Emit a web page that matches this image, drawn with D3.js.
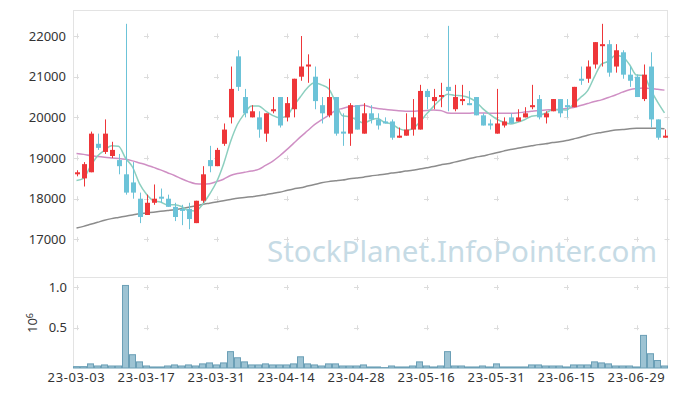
<!DOCTYPE html>
<html>
<head>
<meta charset="utf-8">
<script src="https://cdn.jsdelivr.net/npm/d3@7"></script>
<style>
  body { margin: 0; background: #fff; }
  text { font-family: "Noto Sans", sans-serif; }
</style>
</head>
<body>
<div class="chart-container"></div>
<script>
// Trading days (yy-mm-dd)
const dates = [
  '23-03-03', '23-03-06', '23-03-07', '23-03-08', '23-03-09', '23-03-10', '23-03-13', '23-03-14', '23-03-15', '23-03-16',
  '23-03-17', '23-03-20', '23-03-21', '23-03-22', '23-03-23', '23-03-24', '23-03-27', '23-03-28', '23-03-29', '23-03-30',
  '23-03-31', '23-04-03', '23-04-04', '23-04-05', '23-04-06', '23-04-07', '23-04-10', '23-04-11', '23-04-12', '23-04-13',
  '23-04-14', '23-04-17', '23-04-18', '23-04-19', '23-04-20', '23-04-21', '23-04-24', '23-04-25', '23-04-26', '23-04-27',
  '23-04-28', '23-05-02', '23-05-03', '23-05-04', '23-05-08', '23-05-09', '23-05-10', '23-05-11', '23-05-12', '23-05-15',
  '23-05-16', '23-05-17', '23-05-18', '23-05-19', '23-05-22', '23-05-23', '23-05-24', '23-05-25', '23-05-26', '23-05-30',
  '23-05-31', '23-06-01', '23-06-02', '23-06-05', '23-06-07', '23-06-08', '23-06-09', '23-06-12', '23-06-13', '23-06-14',
  '23-06-15', '23-06-16', '23-06-19', '23-06-20', '23-06-21', '23-06-22', '23-06-23', '23-06-26', '23-06-27', '23-06-28',
  '23-06-29', '23-06-30', '23-07-03', '23-07-04', '23-07-05'
];

const opens = [
  18600, 18500, 18650, 19350, 19150, 19050, 18950, 18600, 18400, 18000,
  17600, 17900, 18050, 18000, 17800, 17750, 17750, 17400, 17950, 18950,
  18800, 19350, 20000, 21500, 20500, 20000, 20000, 19600, 20150, 20500,
  20000, 20200, 21000, 21250, 21000, 20300, 20050, 20500, 19650, 19600,
  20300, 19600, 20100, 19950, 19900, 19900, 19500, 19550, 19700, 19700,
  20650, 20400, 20500, 20750, 20200, 20400, 20350, 20500, 20050, 19850,
  19600, 19800, 20000, 19900, 20000, 20250, 20450, 20000, 20150, 20450,
  20300, 20250, 20950, 20950, 21300, 21750, 21800, 21250, 21600, 21050,
  21000, 20450, 21250, 19950, 19500
];
const highs = [
  18700, 18900, 19650, 19600, 19950, 19400, 19100, 22300, 18900, 18150,
  18100, 18350, 18250, 18100, 17900, 17850, 17900, 17950, 18800, 19300,
  19250, 19850, 21250, 21650, 20700, 20300, 20150, 20100, 20500, 20500,
  20500, 20950, 22000, 21550, 21250, 20500, 20950, 20500, 20100, 20350,
  20300, 20350, 20300, 20100, 20000, 19950, 19750, 20100, 20450, 20800,
  20700, 20700, 20850, 22250, 20800, 20800, 20650, 20500, 20100, 19950,
  20700, 20000, 20100, 20200, 20250, 20800, 20550, 20150, 20450, 20450,
  20450, 20750, 21250, 21400, 21850, 22300, 21900, 21800, 21650, 21250,
  21050, 21300, 21600, 19950, 19700
];
const lows = [
  18550, 18300, 18650, 19200, 19100, 19000, 18600, 18100, 18000, 17400,
  17600, 17850, 17900, 17800, 17450, 17350, 17250, 17400, 17900, 18650,
  18800, 19300, 19850, 20650, 20000, 20000, 19500, 19400, 20100, 19750,
  19900, 20000, 20900, 20850, 20200, 19850, 20000, 19550, 19300, 19300,
  19700, 19600, 19850, 19700, 19850, 19450, 19500, 19550, 19550, 19700,
  20200, 20200, 20250, 20150, 20150, 20300, 20300, 20050, 19800, 19700,
  19600, 19750, 19850, 19900, 20000, 20200, 19950, 19850, 20150, 20000,
  20000, 20250, 20800, 20850, 21200, 21250, 21000, 21100, 20950, 20750,
  20500, 20400, 19750, 19450, 19500
];
const closes = [
  18650, 18850, 19600, 19250, 19600, 19200, 18800, 18150, 18150, 17550,
  17900, 18000, 18000, 17800, 17550, 17700, 17500, 17950, 18600, 18800,
  19200, 19700, 20700, 20750, 20100, 20150, 19700, 20100, 20200, 19800,
  20350, 20950, 21250, 21300, 20400, 20100, 20500, 19600, 19600, 20300,
  19700, 20100, 19950, 19800, 19850, 19500, 19550, 19700, 20000, 20650,
  20500, 20500, 20550, 20650, 20500, 20450, 20300, 20050, 19800, 19800,
  19850, 19900, 19850, 20000, 20100, 20300, 20000, 20100, 20450, 20100,
  20250, 20750, 20900, 21250, 21850, 21800, 21100, 21650, 21050, 20900,
  20500, 21050, 19950, 19500, 19550
];
const volumes = [
  17000, 17000, 51000, 25000, 38000, 25000, 25000, 1025000, 165000, 76000,
  25000, 13000, 13000, 25000, 38000, 25000, 38000, 25000, 51000, 63000,
  38000, 63000, 203000, 127000, 76000, 38000, 38000, 51000, 38000, 38000,
  38000, 51000, 139000, 51000, 38000, 25000, 51000, 51000, 25000, 25000,
  25000, 38000, 13000, 13000, 5000, 25000, 13000, 13000, 25000, 76000,
  25000, 13000, 25000, 203000, 25000, 25000, 13000, 13000, 25000, 13000,
  51000, 13000, 13000, 13000, 13000, 38000, 38000, 25000, 25000, 25000,
  13000, 38000, 38000, 38000, 76000, 63000, 51000, 25000, 25000, 25000,
  13000, 405000, 177000, 93000, 25000
];

const ma5Start = [18450, 18500, 18800, 19050];
const ma20 = [
  19110, 19090, 19060, 19040, 19020, 19000, 18990, 18970, 18930, 18880,
  18830, 18770, 18710, 18640, 18570, 18490, 18420, 18370, 18360, 18370,
  18420, 18480, 18570, 18620, 18650, 18680, 18720, 18820, 18920, 19050,
  19200, 19360, 19520, 19670, 19820, 19940, 20050, 20170, 20220, 20260,
  20280, 20300, 20250, 20220, 20200, 20180, 20160, 20150, 20150, 20160,
  20170, 20180, 20170, 20110, 20100, 20100, 20100, 20110, 20110, 20100,
  20100, 20100, 20100, 20110, 20130, 20150, 20170, 20180, 20190, 20200,
  20220, 20240, 20290, 20340, 20390, 20430, 20490, 20550, 20620, 20680,
  20710, 20720, 20710, 20690, 20670
];
const ma60 = [
  17280, 17320, 17370, 17420, 17470, 17510, 17540, 17570, 17600, 17630,
  17650, 17670, 17690, 17710, 17730, 17760, 17790, 17820, 17860, 17890,
  17920, 17950, 17980, 18010, 18030, 18050, 18070, 18100, 18130, 18160,
  18200, 18240, 18270, 18310, 18350, 18390, 18420, 18440, 18460, 18490,
  18510, 18530, 18560, 18580, 18600, 18630, 18650, 18680, 18700, 18730,
  18760, 18790, 18830, 18860, 18900, 18940, 18980, 19020, 19050, 19090,
  19130, 19170, 19210, 19240, 19270, 19300, 19330, 19350, 19380, 19400,
  19430, 19470, 19510, 19560, 19600, 19630, 19660, 19690, 19700, 19720,
  19730, 19735, 19735, 19730, 19720
];

const priceTicks = [17000, 18000, 19000, 20000, 21000, 22000];
const volumeTicks = [0.5e6, 1e6];
const dateTickEvery = 10;

function ma5Values() {
    return closes.map((c, i) => i < 4 ? ma5Start[i] : d3.mean(closes.slice(i - 4, i + 1)));
}

function drawChart() {
    const svg_width = 677;
    const svg_height = 396;
    const left = 73, right = 668;
    const priceTop = 10, priceBottom = 277;
    const volTop = 277, volBottom = 368;

    const svg = d3.select('.chart-container').append('svg')
        .attr('width', svg_width).attr('height', svg_height)
        .style('display', 'block');

    const rows = dates.map((d, i) => ({
        date: d, open: opens[i], high: highs[i], low: lows[i], close: closes[i], volume: volumes[i]
    }));

    // scales
    const xScale = d3.scaleBand().domain(dates).range([left, right]).padding(0);
    const xc = d => xScale(d) + xScale.bandwidth() / 2;
    const yScale = d3.scaleLinear().domain([16075, 22640]).range([priceBottom, priceTop]);
    const vScale = d3.scaleLinear().domain([0, 1.13e6]).range([volBottom, volTop]);

    // watermark
    svg.append('text')
        .attr('x', 657).attr('y', 262)
        .attr('text-anchor', 'end')
        .style('font-size', '29.5px')
        .style('fill', '#c6dbe5')
        .text('StockPlanet.InfoPointer.com');

    // frame
    const frame = svg.append('g').attr('stroke', '#e3e3e3').attr('stroke-width', 1);
    frame.append('line').attr('x1', left).attr('x2', right).attr('y1', priceTop + 0.5).attr('y2', priceTop + 0.5);
    frame.append('line').attr('x1', left).attr('x2', right).attr('y1', priceBottom + 0.5).attr('y2', priceBottom + 0.5);
    frame.append('line').attr('x1', left + 0.5).attr('x2', left + 0.5).attr('y1', priceTop).attr('y2', volBottom);
    frame.append('line').attr('x1', right - 0.5).attr('x2', right - 0.5).attr('y1', priceTop).attr('y2', volBottom);

    // grid crosses
    const tickDates = dates.filter((d, i) => i % dateTickEvery === 0);
    const crossX = tickDates.map(xc).concat([right - 1]);
    const crossPts = [];
    crossX.forEach(x => {
        priceTicks.forEach(p => crossPts.push([x, yScale(p)]));
        volumeTicks.forEach(v => crossPts.push([x, vScale(v)]));
    });
    svg.append('g').selectAll('path').data(crossPts).enter()
        .append('path')
        .attr('d', d => `M${d[0] - 2.5},${Math.round(d[1]) + 0.5}h5M${Math.round(d[0]) + 0.5},${d[1] - 2.5}v5`)
        .attr('stroke', '#dcdcdc').attr('stroke-width', 1).attr('fill', 'none');

    // price axis
    const yAxis = d3.axisLeft(yScale).tickValues(priceTicks).tickSize(0).tickPadding(7).tickFormat(d3.format('d'));
    const yAxisDraw = svg.append('g').attr('transform', `translate(${left},0)`).call(yAxis);
    yAxisDraw.select('.domain').remove();
    yAxisDraw.selectAll('text').style('font-size', '13px').style('fill', '#333');

    // volume axis
    const vAxis = d3.axisLeft(vScale).tickValues(volumeTicks).tickSize(0).tickPadding(6)
        .tickFormat(d => d3.format('.1f')(d / 1e6));
    const vAxisDraw = svg.append('g').attr('transform', `translate(${left},0)`).call(vAxis);
    vAxisDraw.select('.domain').remove();
    vAxisDraw.selectAll('text').style('font-size', '13px').style('fill', '#333');

    const vLabel = svg.append('text')
        .attr('transform', 'translate(37,323) rotate(-90)')
        .attr('text-anchor', 'middle')
        .style('font-size', '13px').style('fill', '#333');
    vLabel.append('tspan').text('10');
    vLabel.append('tspan').attr('dy', '-0.45em').style('font-size', '9px').text('6');

    // date axis
    const xAxis = d3.axisBottom(xScale).tickValues(tickDates).tickSize(0).tickPadding(5);
    const xAxisDraw = svg.append('g').attr('transform', `translate(0,${volBottom})`).call(xAxis);
    xAxisDraw.select('.domain').remove();
    xAxisDraw.selectAll('text').style('font-size', '13px').style('fill', '#333')
        .style('letter-spacing', '0.6px');

    // volume bars
    svg.append('g').selectAll('rect').data(rows).enter()
        .append('rect')
        .attr('x', d => xScale(d.date) + 0.5)
        .attr('width', xScale.bandwidth() - 1)
        .attr('y', d => vScale(d.volume))
        .attr('height', d => volBottom - vScale(d.volume))
        .attr('fill', '#9dc3d3')
        .attr('stroke', '#6b9fb6')
        .attr('stroke-width', 1);

    // moving averages
    const line = values => d3.line()
        .x((v, i) => xc(dates[i]))
        .y(v => yScale(v))
        .curve(d3.curveMonotoneX)(values);
    svg.append('path').attr('d', line(ma60)).attr('fill', 'none')
        .attr('stroke', '#8c8c8c').attr('stroke-width', 1.5);
    svg.append('path').attr('d', line(ma20)).attr('fill', 'none')
        .attr('stroke', '#cf8fc4').attr('stroke-width', 1.5);
    svg.append('path').attr('d', line(ma5Values())).attr('fill', 'none')
        .attr('stroke', '#8ccfbf').attr('stroke-width', 1.5);

    // candles
    const up = '#ee3639', down = '#6cc3d8';
    const candle = svg.append('g').selectAll('g').data(rows).enter().append('g');
    candle.append('line')
        .attr('x1', d => Math.round(xc(d.date)) + 0.5).attr('x2', d => Math.round(xc(d.date)) + 0.5)
        .attr('y1', d => yScale(d.high)).attr('y2', d => yScale(d.low))
        .attr('stroke', d => d.close >= d.open ? up : down).attr('stroke-width', 1);
    candle.append('rect')
        .attr('x', d => Math.round(xc(d.date)) - 2)
        .attr('width', 5)
        .attr('y', d => yScale(Math.max(d.open, d.close)))
        .attr('height', d => Math.max(1, Math.abs(yScale(d.open) - yScale(d.close))))
        .attr('fill', d => d.close >= d.open ? up : down);
}

drawChart();
</script>
</body>
</html>
